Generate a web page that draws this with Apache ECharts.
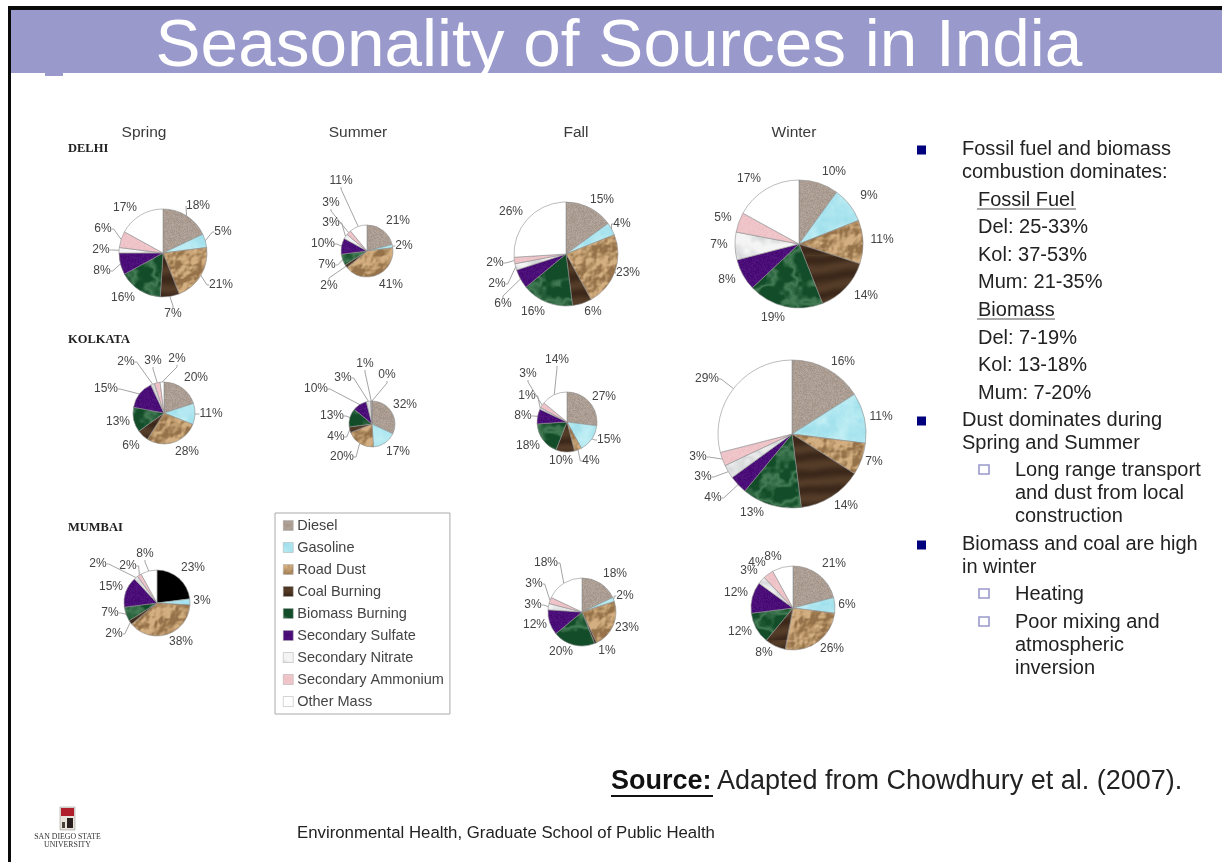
<!DOCTYPE html>
<html>
<head>
<meta charset="utf-8">
<title>Seasonality of Sources in India</title>
<style>html,body{margin:0;padding:0;background:#fff}#chart{width:1222px;height:862px}</style>
<script src="https://cdn.jsdelivr.net/npm/echarts@6/dist/echarts.min.js"></script>
</head>
<body>
<div id="chart"></div>
<script>
// Source categories, in the clockwise order of every pie
const sources = ['Diesel','Gasoline','Road Dust','Coal Burning','Biomass Burning','Secondary Sulfate','Secondary Nitrate','Secondary Ammonium','Other Mass'];

// Percent contribution per city and season
const delhiSpring   = [18, 5, 21, 7, 16, 8, 2, 6, 17];
const delhiSummer   = [21, 2, 41, 2, 7, 10, 3, 3, 11];
const delhiFall     = [15, 4, 23, 6, 16, 6, 2, 2, 26];
const delhiWinter   = [10, 9, 11, 14, 19, 8, 7, 5, 17];
const kolkataSpring = [20, 11, 28, 6, 13, 15, 2, 3, 2];
const kolkataSummer = [32, 17, 20, 4, 13, 10, 3, 1, 0];
const kolkataFall   = [27, 15, 4, 10, 18, 8, 1, 3, 14];
const kolkataWinter = [16, 11, 7, 14, 13, 4, 3, 3, 29];
const mumbaiSpring  = [23, 3, 38, 2, 7, 15, 2, 2, 8];
const mumbaiFall    = [18, 2, 23, 1, 20, 12, 3, 3, 18];
const mumbaiWinter  = [21, 6, 26, 8, 12, 12, 3, 4, 8];

const seasons = [['Spring',144],['Summer',358],['Fall',576],['Winter',794]];
const cities  = [['DELHI',149],['KOLKATA',340],['MUMBAI',528]];

// Pie placement: centre, radius, label centres per slice, slices with a leader line
const pies = [
  {id:'Delhi Spring', values:delhiSpring, c:[163,253], r:44,
   at:[[198,206],[223,232],[221,285],[173,314],[123,298],[102,271],[101,250],[103,229],[125,208]], lead:[0,1,2,3,5,6,7]},
  {id:'Delhi Summer', values:delhiSummer, c:[367,251], r:26,
   at:[[398,221],[404,246],[391,285],[329,286],[327,265],[323,244],[331,223],[331,203],[341,181]], lead:[1,3,4,5,6,7,8]},
  {id:'Delhi Fall', values:delhiFall, c:[566,254], r:52,
   at:[[602,200],[622,224],[628,273],[593,312],[533,312],[503,304],[497,284],[495,263],[511,212]], lead:[1,2,5,6,7]},
  {id:'Delhi Winter', values:delhiWinter, c:[799,244], r:64,
   at:[[834,172],[869,196],[882,240],[866,296],[773,318],[727,280],[719,245],[723,218],[749,179]], lead:[]},
  {id:'Kolkata Spring', values:kolkataSpring, c:[164,413], r:31,
   at:[[196,378],[211,414],[187,452],[131,446],[118,422],[106,389],[126,362],[153,361],[177,359]], lead:[1,5,6,7,8]},
  {id:'Kolkata Summer', values:kolkataSummer, c:[372,424], r:23,
   at:[[405,405],[398,452],[342,457],[336,437],[332,416],[316,389],[343,378],[365,364],[387,375]], lead:[2,3,4,5,6,7,8]},
  {id:'Kolkata Fall', values:kolkataFall, c:[567,422], r:30,
   at:[[604,397],[609,440],[591,461],[561,461],[528,446],[523,416],[527,396],[528,374],[557,360]], lead:[1,2,5,6,7,8]},
  {id:'Kolkata Winter', values:kolkataWinter, c:[792,434], r:74,
   at:[[843,362],[881,417],[874,462],[846,506],[752,513],[713,498],[703,477],[698,457],[707,379]], lead:[5,6,7,8]},
  {id:'Mumbai Spring', values:mumbaiSpring, c:[157,603], r:33,
   at:[[193,568],[202,601],[181,642],[114,634],[110,613],[111,587],[98,564],[128,566],[145,554]], lead:[3,4,6,7,8], firstSliceBlack:true},
  {id:'Mumbai Fall', values:mumbaiFall, c:[582,612], r:34,
   at:[[615,574],[625,596],[627,628],[607,651],[561,652],[535,625],[533,605],[534,584],[546,563]], lead:[1,6,7,8]},
  {id:'Mumbai Winter', values:mumbaiWinter, c:[793,608], r:42,
   at:[[834,564],[847,605],[832,649],[764,653],[740,632],[736,593],[749,571],[757,563],[773,557]], lead:[]}
];

// Slide text on the right-hand side: kind, text, y
const notes = [
  ['b','Fossil fuel and biomass',149],['t','combustion dominates:',172],
  ['u','Fossil Fuel',200],['s','Del: 25-33%',227],['s','Kol: 37-53%',255],['s','Mum: 21-35%',282],
  ['u','Biomass',310],['s','Del: 7-19%',338],['s','Kol: 13-18%',365],['s','Mum: 7-20%',393],
  ['b','Dust dominates during',420],['t','Spring and Summer',443],
  ['h','Long range transport',470],['i','and dust from local',493],['i','construction',516],
  ['b','Biomass and coal are high',544],['t','in winter',567],
  ['h','Heating',594],['h','Poor mixing and',622],['i','atmospheric',645],['i','inversion',668]
];

// Deterministic value noise for the slice fill textures
function hash(x, y) { const s = Math.sin(x * 127.1 + y * 311.7) * 43758.5453; return s - Math.floor(s); }
function vnoise(x, y, p) {
  const xi = Math.floor(x), yi = Math.floor(y), fx = x - xi, fy = y - yi;
  const u = fx * fx * (3 - 2 * fx), v = fy * fy * (3 - 2 * fy);
  const w = (a, b) => hash(((a % p) + p) % p, ((b % p) + p) % p);
  return (w(xi, yi) * (1 - u) + w(xi + 1, yi) * u) * (1 - v) + (w(xi, yi + 1) * (1 - u) + w(xi + 1, yi + 1) * u) * v;
}
function fbm(x, y, p) { return (vnoise(x, y, p) * 4 + vnoise(x * 2, y * 2, p * 2) * 2 + vnoise(x * 4, y * 4, p * 4)) / 7; }
function mix(a, b, t) { t = Math.max(0, Math.min(1, t)); return [0, 1, 2].map(i => a[i] + (b[i] - a[i]) * t); }

function texture(shade) {
  const size = 128, cv = document.createElement('canvas');
  cv.width = cv.height = size;
  const g = cv.getContext('2d'), img = g.createImageData(size, size);
  for (let y = 0; y < size; y++) for (let x = 0; x < size; x++) {
    const c = shade(x, y, x / size, y / size), k = (y * size + x) * 4;
    img.data[k] = c[0]; img.data[k + 1] = c[1]; img.data[k + 2] = c[2]; img.data[k + 3] = 255;
  }
  g.putImageData(img, 0, 0);
  return { image: cv, repeat: 'repeat' };
}
const fills = [
  texture((x, y) => mix([160,146,134], [182,168,158], hash(x, y))),
  texture((x, y, u, v) => mix([160,224,236], [192,238,244], fbm(u * 14, v * 14, 14) * 1.6 - .3)),
  texture((x, y, u, v) => {
    const here = fbm(u * 12, v * 12, 12);
    const light = fbm((u + .015) * 12, (v + .015) * 12, 12) - here;
    return mix([150,114,74], [210,174,128], .55 + light * 5 - Math.abs(here - .5) * .4);
  }),
  texture((x, y, u, v) => mix([60,40,26], [84,60,40], .5 + .5 * Math.sin(v * 48 + fbm(u * 3, v * 3, 3) * 6))),
  texture((x, y, u, v) => {
    const vein = 1 - Math.abs(fbm(u * 7, v * 7, 7) - .5) * 9;
    return mix([18,76,40], [84,140,100], vein * .7 + hash(x, y) * .1);
  }),
  texture((x, y) => mix([66,6,112], [84,22,128], hash(x, y))),
  texture((x, y, u, v) => {
    const vein = Math.abs(fbm(u * 6, v * 6, 6) - .5) * 4;
    return mix([204,206,208], [244,244,244], vein + .25);
  }),
  texture((x, y) => mix([236,190,196], [242,202,206], hash(x, y))),
  '#ffffff'
];

const series = pies.map(p => ({
  type: 'pie',
  name: p.id,
  center: p.c,
  radius: p.r,
  startAngle: 90,
  clockwise: true,
  avoidLabelOverlap: false,
  stillShowZeroSum: true,
  silent: true,
  itemStyle: { borderColor: '#8f8f8f', borderWidth: 0.6 },
  label: { show: true, position: 'outside', formatter: '{c}%', fontFamily: 'Liberation Sans', fontSize: 12, color: '#444' },
  labelLine: { show: false, length2: 2, lineStyle: { color: '#9a9a9a', width: 0.9 } },
  labelLayout: params => {
    const at = p.at[params.dataIndex];
    return { x: at[0], y: at[1], align: 'center', verticalAlign: 'middle' };
  },
  data: p.values.map((v, i) => ({
    name: sources[i],
    value: v,
    itemStyle: { color: (p.firstSliceBlack && i === 0) ? '#000000' : fills[i] },
    labelLine: { show: p.lead.includes(i) }
  }))
}));

// Page furniture: title band, frame, captions and slide text
const txt = (text, x, y, o) => ({ type: 'text', z: 5, silent: true, x, y,
  style: Object.assign({ text, align: 'left', verticalAlign: 'middle', fontFamily: 'Liberation Sans', fontSize: 14, fill: '#333' }, o) });
const box = (x, y, w, h, fill, o) => ({ type: 'rect', z: 1, silent: true, shape: { x, y, width: w, height: h }, style: Object.assign({ fill }, o) });
const rule = (x1, x2, y, color, w) => ({ type: 'line', z: 5, silent: true, shape: { x1, y1: y, x2, y2: y }, style: { stroke: color, lineWidth: w } });

const graphics = [
  box(8, 6, 1214, 4, '#0a0a0a'),
  box(8, 6, 3, 856, '#0a0a0a'),
  box(11, 10, 1211, 63, '#9999cc'),
  box(45, 73, 18, 3, '#9999cc'),
  txt('Seasonality of Sources in India', 619, 47, { align: 'center', fontSize: 67.5, fill: '#ffffff' })
];
seasons.forEach(s => graphics.push(txt(s[0], s[1], 133, { align: 'center', fontSize: 15.5, fill: '#3a3a3a' })));
cities.forEach(c => graphics.push(txt(c[0], 68, c[1], { fontFamily: 'Liberation Serif', fontWeight: 'bold', fontSize: 12.5, fill: '#222' })));

const bodyStyle = { fontSize: 20, fill: '#222' };
notes.forEach(n => {
  const kind = n[0], y = n[2];
  const x = (kind === 'b' || kind === 't') ? 962 : (kind === 'h' || kind === 'i') ? 1015 : 978;
  graphics.push(txt(n[1], x, y, bodyStyle));
  if (kind === 'b') graphics.push(box(917, y - 3.5, 9, 9, '#00007f'));
  if (kind === 'h') graphics.push(box(979, y - 5, 10, 9, '#ffffff', { stroke: '#9999cc', lineWidth: 1.6 }));
  if (kind === 'u') graphics.push(rule(977, n[1] === 'Biomass' ? 1055 : 1076, y + 9, '#555', 1.2));
});

graphics.push(
  txt('Source:', 611, 782, { fontSize: 27, fontWeight: 'bold', fill: '#111' }),
  rule(611, 713, 796, '#111', 2),
  txt('Adapted from Chowdhury et al. (2007).', 717, 782, { fontSize: 27, fill: '#222' }),
  txt('Environmental Health, Graduate School of Public Health', 297, 833, { fontSize: 16.8, fill: '#222' }),
  // University mark
  box(60, 807, 15, 23, '#e8e4dc', { stroke: '#888', lineWidth: 0.5 }),
  box(61, 808, 13, 8, '#b0202c'),
  box(67, 818, 6, 10, '#2a2020'),
  box(62, 822, 3, 6, '#4a4038'),
  txt('SAN DIEGO STATE', 67.5, 837, { align: 'center', fontFamily: 'Liberation Serif', fontSize: 7.8, fill: '#333' }),
  txt('UNIVERSITY', 67.5, 845, { align: 'center', fontFamily: 'Liberation Serif', fontSize: 7.8, fill: '#333' })
);

const chart = echarts.init(document.getElementById('chart'));
chart.setOption({
  animation: false,
  backgroundColor: '#ffffff',
  legend: {
    show: true,
    data: sources,
    orient: 'vertical',
    left: 275,
    top: 513,
    selectedMode: false,
    icon: 'rect',
    itemWidth: 10,
    itemHeight: 10,
    itemGap: 7,
    padding: [5, 6, 5, 8],
    borderColor: '#aaaaaa',
    borderWidth: 1,
    itemStyle: { borderColor: '#aaaaaa', borderWidth: 0.5 },
    textStyle: { fontFamily: 'Liberation Sans', fontSize: 14.5, color: '#444', padding: [0, 0, 0, -1] }
  },
  graphic: graphics,
  series
});
</script>
</body>
</html>
